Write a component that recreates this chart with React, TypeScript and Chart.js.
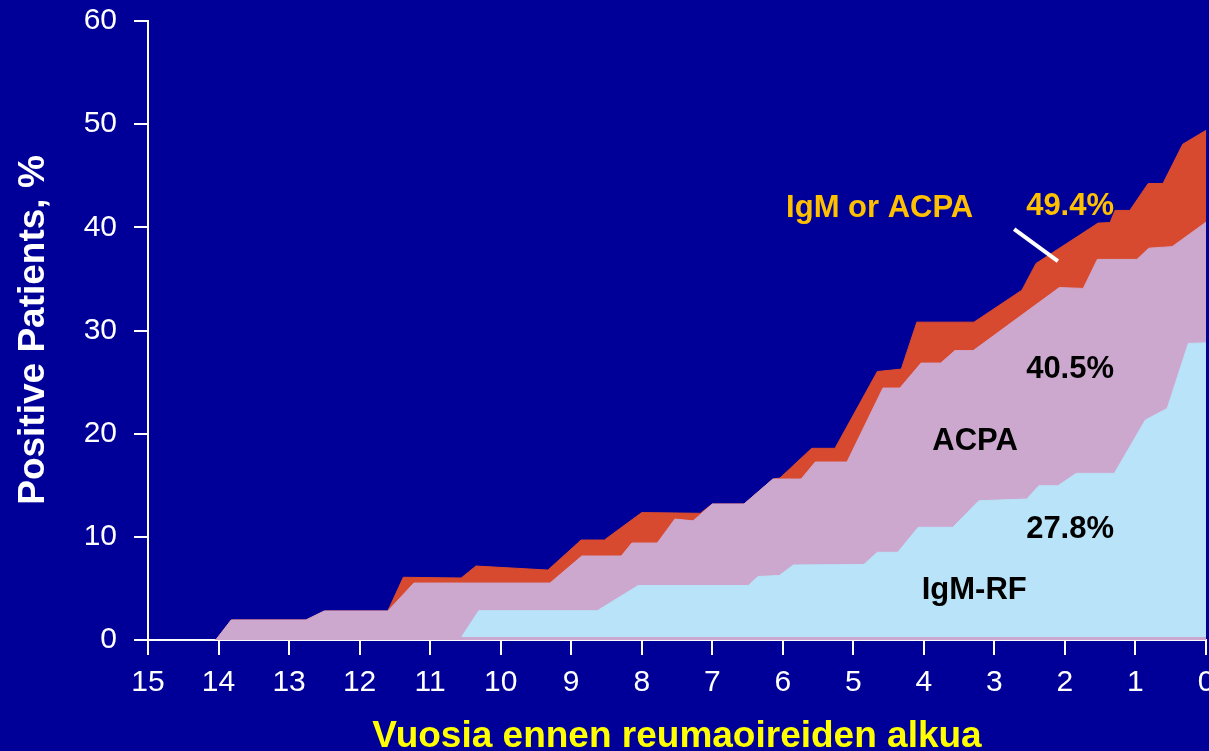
import React, { useEffect, useRef } from 'react';
import { Chart, registerables } from 'chart.js';

Chart.register(...registerables);

const W = 1209;
const H = 751;
const FONT = "'Liberation Sans', Arial, Helvetica, sans-serif";
const BG = '#000099';

// Axis ticks
const xTickValues = [0, 1, 2, 3, 4, 5, 6, 7, 8, 9, 10, 11, 12, 13, 14, 15];
const yTickValues = [0, 10, 20, 30, 40, 50, 60];

// IgM or ACPA (red)
const eitherYears = [14.04, 13.82, 12.76, 12.5, 11.6, 11.38, 10.56, 10.35, 9.33, 8.86, 8.53, 8.0, 7.17, 7.0, 6.55, 6.14, 6.04, 5.59, 5.26, 4.66, 4.32, 4.1, 3.29, 2.61, 2.41, 1.53, 1.36, 1.29, 1.08, 0.82, 0.61, 0.33, 0];
const eitherValues = [0, 1.94, 1.94, 2.81, 2.81, 6.08, 6.01, 7.17, 6.78, 9.69, 9.69, 12.35, 12.28, 13.18, 13.18, 15.6, 15.7, 18.58, 18.58, 26.02, 26.26, 30.81, 30.81, 33.91, 36.5, 40.41, 40.46, 41.64, 41.64, 44.25, 44.25, 48.06, 49.4];

// ACPA (lilac)
const acpaYears = [14.04, 13.82, 12.76, 12.5, 11.6, 11.23, 9.3, 8.85, 8.29, 8.14, 7.78, 7.53, 7.27, 7.0, 6.55, 6.14, 5.74, 5.54, 5.09, 4.58, 4.34, 4.04, 3.76, 3.56, 3.3, 2.08, 1.74, 1.54, 0.98, 0.81, 0.48, 0];
const acpaValues = [0, 1.94, 1.94, 2.81, 2.81, 5.52, 5.52, 8.14, 8.14, 9.4, 9.4, 11.72, 11.55, 13.18, 13.18, 15.6, 15.6, 17.25, 17.25, 24.42, 24.42, 26.84, 26.84, 28.05, 28.05, 34.16, 34.08, 36.89, 36.89, 37.98, 38.13, 40.5];

// IgM-RF (light blue)
const rfYears = [10.55, 10.31, 8.63, 8.05, 6.49, 6.35, 6.05, 5.85, 4.85, 4.66, 4.37, 4.08, 3.59, 3.22, 2.54, 2.37, 2.1, 1.84, 1.3, 0.86, 0.55, 0.25, 0];
const rfValues = [0.34, 2.84, 2.84, 5.28, 5.28, 6.15, 6.25, 7.27, 7.32, 8.5, 8.5, 10.92, 10.92, 13.5, 13.66, 14.95, 14.95, 16.15, 16.15, 21.32, 22.45, 28.75, 28.8];
const rfBaseline = 0.3;

// Annotations (positioned in data coordinates)
const noteTexts = ['IgM or ACPA', '49.4%', '40.5%', 'ACPA', '27.8%', 'IgM-RF'];
const noteX = [3.3, 2.55, 2.55, 3.88, 2.55, 4.03];
const noteY = [41.0, 41.18, 25.39, 18.41, 9.88, 3.97];
const noteColors = ['#FFC000', '#FFC000', '#000000', '#000000', '#000000', '#000000'];
const noteAlign = ['right', 'left', 'left', 'left', 'left', 'left'];
const pointerX = [2.72, 2.1];
const pointerY = [39.83, 36.72];

const xTitle = 'Vuosia ennen reumaoireiden alkua';
const yTitle = 'Positive Patients, %';

const COLORS = {
  either: '#D84A2F',
  acpa: '#CDA8CE',
  rf: '#B9E3F8',
};

const zip = (xs: number[], ys: number[]) => xs.map((x, i) => ({ x, y: ys[i] }));

const bgPlugin = {
  id: 'bgFill',
  beforeDraw(chart: any) {
    const ctx = chart.ctx;
    ctx.save();
    ctx.fillStyle = BG;
    ctx.fillRect(0, 0, chart.width, chart.height);
    ctx.restore();
  },
};

const textPlugin = {
  id: 'textsOverlay',
  afterDraw(chart: any) {
    const ctx = chart.ctx;
    const xs = chart.scales.x;
    const ys = chart.scales.y;
    ctx.save();
    // pointer line
    ctx.strokeStyle = '#FFFFFF';
    ctx.lineWidth = 4;
    ctx.beginPath();
    ctx.moveTo(xs.getPixelForValue(pointerX[0]), ys.getPixelForValue(pointerY[0]));
    ctx.lineTo(xs.getPixelForValue(pointerX[1]), ys.getPixelForValue(pointerY[1]));
    ctx.stroke();
    // notes
    ctx.font = `bold 31px ${FONT}`;
    ctx.textBaseline = 'alphabetic';
    noteTexts.forEach((t, i) => {
      ctx.fillStyle = noteColors[i];
      ctx.textAlign = noteAlign[i] as CanvasTextAlign;
      ctx.fillText(t, xs.getPixelForValue(noteX[i]), ys.getPixelForValue(noteY[i]));
    });
    // x title
    ctx.font = `bold 37px ${FONT}`;
    ctx.fillStyle = '#FFFF00';
    ctx.textAlign = 'center';
    ctx.fillText(xTitle, (xs.left + xs.right) / 2 - 0, 747);
    // y title
    ctx.fillStyle = '#FFFFFF';
    ctx.translate(44, 330);
    ctx.rotate(-Math.PI / 2);
    ctx.textAlign = 'center';
    ctx.fillText(yTitle, 0, 0);
    ctx.restore();
  },
};

export default function App() {
  const ref = useRef<HTMLCanvasElement | null>(null);

  useEffect(() => {
    if (!ref.current) return;
    const chart = new Chart(ref.current, {
      type: 'line',
      data: {
        datasets: [
          {
            label: 'IgM-RF',
            data: zip(rfYears, rfValues),
            backgroundColor: COLORS.rf,
            borderColor: COLORS.rf,
            borderWidth: 1,
            fill: { value: rfBaseline },
            pointRadius: 0,
            tension: 0,
          },
          {
            label: 'ACPA',
            data: zip(acpaYears, acpaValues),
            backgroundColor: COLORS.acpa,
            borderColor: COLORS.acpa,
            borderWidth: 1,
            fill: 'origin',
            pointRadius: 0,
            tension: 0,
          },
          {
            label: 'IgM or ACPA',
            data: zip(eitherYears, eitherValues),
            backgroundColor: COLORS.either,
            borderColor: COLORS.either,
            borderWidth: 1,
            fill: 'origin',
            pointRadius: 0,
            tension: 0,
          },
        ],
      },
      options: {
        animation: false,
        responsive: false,
        maintainAspectRatio: false,
        layout: { padding: { left: 0, right: 3, top: 21, bottom: 0 } },
        plugins: {
          legend: { display: false },
          tooltip: { enabled: false },
        },
        scales: {
          x: {
            type: 'linear',
            reverse: true,
            min: 0,
            max: 15,
            afterBuildTicks: (s: any) => {
              s.ticks = xTickValues.map((v) => ({ value: v }));
            },
            afterFit: (s: any) => {
              s.height = 111;
              s.paddingLeft = 0;
              s.paddingRight = 0;
            },
            ticks: {
              color: '#FFFFFF',
              font: { family: FONT, size: 30 },
              padding: 10,
              maxRotation: 0,
              autoSkip: false,
            },
            grid: {
              drawOnChartArea: false,
              drawTicks: true,
              tickLength: 15,
              color: '#FFFFFF',
              lineWidth: 2,
            },
            border: { display: true, color: '#FFFFFF', width: 2 },
          },
          y: {
            type: 'linear',
            min: 0,
            max: 60,
            afterBuildTicks: (s: any) => {
              s.ticks = yTickValues.map((v) => ({ value: v }));
            },
            afterFit: (s: any) => {
              s.width = 148;
              s.paddingTop = 0;
              s.paddingBottom = 0;
            },
            ticks: {
              color: '#FFFFFF',
              font: { family: FONT, size: 30 },
              padding: 17,
              autoSkip: false,
            },
            grid: {
              drawOnChartArea: false,
              drawTicks: true,
              tickLength: 14,
              color: '#FFFFFF',
              lineWidth: 2,
            },
            border: { display: true, color: '#FFFFFF', width: 2 },
          },
        },
      } as any,
      plugins: [bgPlugin, textPlugin],
    });
    return () => chart.destroy();
  }, []);

  return (
    <div style={{ position: 'fixed', left: 0, top: 0, width: W, height: H, background: BG }}>
      <canvas ref={ref} width={W} height={H} style={{ display: 'block', width: W, height: H }} />
    </div>
  );
}
